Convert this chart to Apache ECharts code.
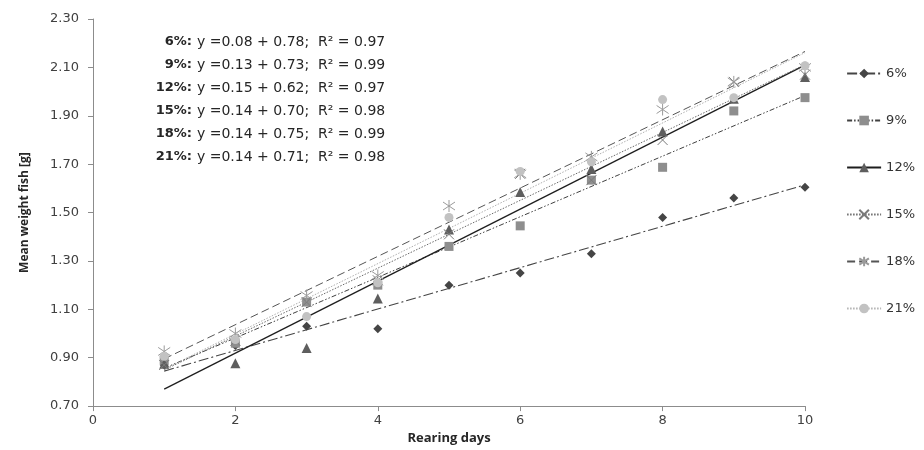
<!DOCTYPE html>
<html>
<head>
<meta charset="utf-8">
<script src="https://cdn.jsdelivr.net/npm/echarts@6/dist/echarts.min.js"></script>
<style>
  html, body { margin: 0; padding: 0; background: #fff; }
  #main { width: 924px; height: 450px; }
</style>
</head>
<body>
<div id="main"></div>
<script>
// data
var days = [1, 2, 3, 4, 5, 6, 7, 8, 9, 10];
var w6  = [0.87, 0.95, 1.03, 1.02, 1.20, 1.25, 1.33, 1.48, 1.56, 1.605];
var w9  = [0.89, 0.96, 1.13, 1.20, 1.36, 1.445, 1.634, 1.687, 1.92, 1.975];
var w12 = [0.875, 0.877, 0.94, 1.145, 1.43, 1.585, 1.68, 1.835, 1.97, 2.06];
var w15 = [0.87, 0.97, 1.13, 1.22, 1.41, 1.66, 1.634, 1.80, 2.04, 2.07];
var w18 = [0.926, 1.00, 1.157, 1.24, 1.527, 1.66, 1.73, 1.926, 2.04, 2.10];
var w21 = [0.906, 0.975, 1.07, 1.21, 1.48, 1.67, 1.71, 1.967, 1.975, 2.107];

var groupNames = ['6%', '9%', '12%', '15%', '18%', '21%'];
var eqLabels = ['6%:', '9%:', '12%:', '15%:', '18%:', '21%:'];
var eqTexts = [
  'y =0.08 + 0.78;  R\u00b2 = 0.97',
  'y =0.13 + 0.73;  R\u00b2 = 0.99',
  'y =0.15 + 0.62;  R\u00b2 = 0.97',
  'y =0.14 + 0.70;  R\u00b2 = 0.98',
  'y =0.14 + 0.75;  R\u00b2 = 0.99',
  'y =0.14 + 0.71;  R\u00b2 = 0.98'
];

var allValues = [w6, w9, w12, w15, w18, w21];

var styles = [
  { symbol: 'diamond', size: 9, color: '#454545', line: '#454545', type: [10, 3, 2, 3], width: 1.1 },
  { symbol: 'rect', size: 9, color: '#8e8e8e', line: '#404040', type: [5, 2, 1.5, 2, 1.5, 2], width: 1 },
  { symbol: 'triangle', size: 10, color: '#5e5e5e', line: '#1e1e1e', type: 'solid', width: 1.3 },
  { symbol: 'path://M0,0L10,10M10,0L0,10', size: 10, color: 'rgba(0,0,0,0)', border: '#7a7a7a', line: '#6a6a6a', type: [1.5, 1.5], width: 1 },
  { symbol: 'path://M0,1L10,9M10,1L0,9M5,-1L5,11', size: 12, color: 'rgba(0,0,0,0)', border: '#9a9a9a', line: '#555555', type: [8, 4], width: 1 },
  { symbol: 'circle', size: 9, color: '#c2c2c2', line: '#b0b0b0', type: [1.5, 1.5], width: 1 }
];

// least squares trend line
function fit(xs, ys) {
  var n = xs.length, sx = 0, sy = 0, sxy = 0, sxx = 0;
  for (var i = 0; i < n; i++) {
    sx += xs[i]; sy += ys[i]; sxy += xs[i] * ys[i]; sxx += xs[i] * xs[i];
  }
  var b = (n * sxy - sx * sy) / (n * sxx - sx * sx);
  var a = (sy - b * sx) / n;
  return [[xs[0], a + b * xs[0]], [xs[n - 1], a + b * xs[n - 1]]];
}

var series = [];
allValues.forEach(function (vals, k) {
  var s = styles[k];
  series.push({
    name: groupNames[k],
    type: 'line',
    data: fit(days, vals),
    symbol: s.symbol,
    showSymbol: false,
    silent: true,
    z: 2,
    lineStyle: { color: s.line, type: s.type, width: s.width },
    itemStyle: { color: s.color, borderColor: s.border || s.color, borderWidth: s.border ? 1 : 0 }
  });
});
allValues.forEach(function (vals, k) {
  var s = styles[k];
  series.push({
    name: groupNames[k],
    type: 'scatter',
    data: days.map(function (d, i) { return [d, vals[i]]; }),
    symbol: s.symbol,
    symbolSize: s.size,
    z: 3,
    itemStyle: { color: s.color, borderColor: s.border || s.color, borderWidth: s.border ? 1 : 0, opacity: 1 }
  });
});

var graphics = [];
eqLabels.forEach(function (lab, i) {
  var y = 42 + i * 23;
  graphics.push({
    type: 'text', x: 192, y: y,
    style: { text: lab, font: 'bold 13px "DejaVu Sans"', fill: '#262626', align: 'right', verticalAlign: 'middle' }
  });
  graphics.push({
    type: 'text', x: 197, y: y,
    style: { text: eqTexts[i], font: '14px "DejaVu Sans"', fill: '#262626', align: 'left', verticalAlign: 'middle' }
  });
});

var myChart = echarts.init(document.getElementById('main'));
var option = {
  animation: false,
  backgroundColor: '#fff',
  grid: { left: 93, right: 119, top: 19, bottom: 42 },
  legend: {
    data: groupNames,
    orient: 'vertical',
    right: 4,
    top: 62,
    itemWidth: 34,
    itemHeight: 12,
    itemGap: 34,
    textStyle: { fontFamily: 'DejaVu Sans', fontSize: 13, color: '#333' }
  },
  xAxis: {
    type: 'value',
    min: 0, max: 10, interval: 2,
    name: 'Rearing days',
    nameLocation: 'middle',
    nameGap: 23,
    nameTextStyle: { fontFamily: 'Open Sans', fontWeight: 'bold', fontSize: 13, color: '#262626' },
    axisLine: { lineStyle: { color: '#8c8c8c' } },
    axisTick: { length: 5, lineStyle: { color: '#8c8c8c' } },
    axisLabel: { fontFamily: 'DejaVu Sans', fontSize: 13, color: '#404040', margin: 8 },
    splitLine: { show: false }
  },
  yAxis: {
    type: 'value',
    min: 0.7, max: 2.3, interval: 0.2,
    name: 'Mean weight fish [g]',
    nameLocation: 'middle',
    nameGap: 62,
    nameRotate: 90,
    nameTextStyle: { fontFamily: 'Open Sans', fontWeight: 'bold', fontSize: 12, color: '#262626' },
    axisLine: { show: true, lineStyle: { color: '#8c8c8c' } },
    axisTick: { show: true, length: 5, lineStyle: { color: '#8c8c8c' } },
    axisLabel: {
      fontFamily: 'DejaVu Sans', fontSize: 13, color: '#404040', margin: 14,
      formatter: function (v) { return v.toFixed(2); }
    },
    splitLine: { show: false }
  },
  graphic: graphics,
  series: series
};
myChart.setOption(option);
</script>
</body>
</html>
